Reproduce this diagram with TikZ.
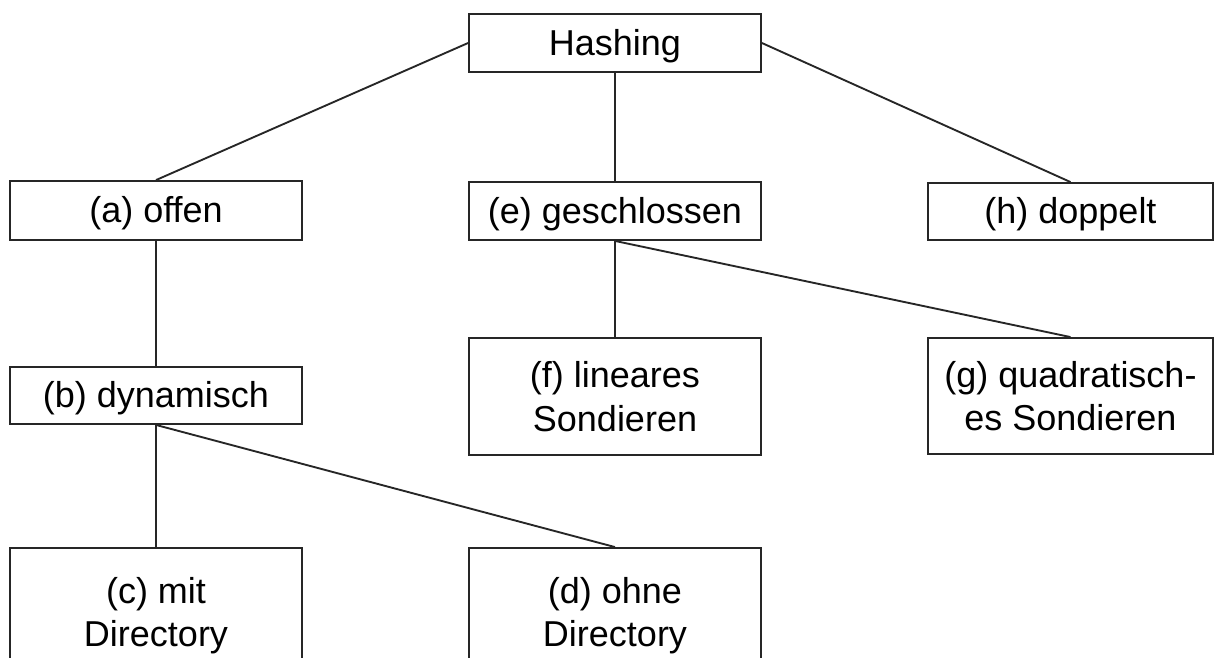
\documentclass[tikz,border=0pt]{standalone}
\usepackage{fontspec}
\setmainfont{Liberation Sans}
\begin{document}
\begin{tikzpicture}[x=0.75pt,y=-0.75pt,
  box/.style={draw=black!85,line width=1.4pt,fill=white,inner sep=0pt,
    font=\fontsize{27}{32.5}\selectfont},
  one/.style={box,text height=19.5pt,text depth=1.5pt},
  two/.style={box,align=center},
  link/.style={draw=black!85,line width=1.4pt}]
\clip (0,0) rectangle (1216,657);
\fill[white] (0,0) rectangle (1216,657);
\node[one,minimum width=292*0.75pt,minimum height=58*0.75pt] (hash) at (615,43) {Hashing};
\node[one,minimum width=292*0.75pt,minimum height=59*0.75pt] (a) at (156,210.5) {(a) offen};
\node[one,minimum width=292*0.75pt,minimum height=58*0.75pt] (e) at (615,211) {(e) geschlossen};
\node[one,minimum width=285*0.75pt,minimum height=57*0.75pt] (h) at (1070.5,211.5) {(h) doppelt};
\node[one,minimum width=292*0.75pt,minimum height=57*0.75pt] (b) at (156,395.5) {(b) dynamisch};
\node[two,minimum width=292*0.75pt,minimum height=117*0.75pt] (f) at (615,396.5) {(f) lineares\\Sondieren};
\node[two,minimum width=285*0.75pt,minimum height=116*0.75pt] (g) at (1070.5,396) {(g) quadratisch-\\es Sondieren};
\node[two,minimum width=292*0.75pt,minimum height=136*0.75pt] (c) at (156,616) {(c) mit\\Directory};
\node[two,minimum width=292*0.75pt,minimum height=136*0.75pt] (d) at (615,616) {(d) ohne\\Directory};
\draw[link] (hash.west) -- (a.north);
\draw[link] (hash.south) -- (e.north);
\draw[link] (hash.east) -- (h.north);
\draw[link] (a.south) -- (b.north);
\draw[link] (b.south) -- (c.north);
\draw[link] (b.south) -- (d.north);
\draw[link] (e.south) -- (f.north);
\draw[link] (e.south) -- (g.north);
\end{tikzpicture}
\end{document}
